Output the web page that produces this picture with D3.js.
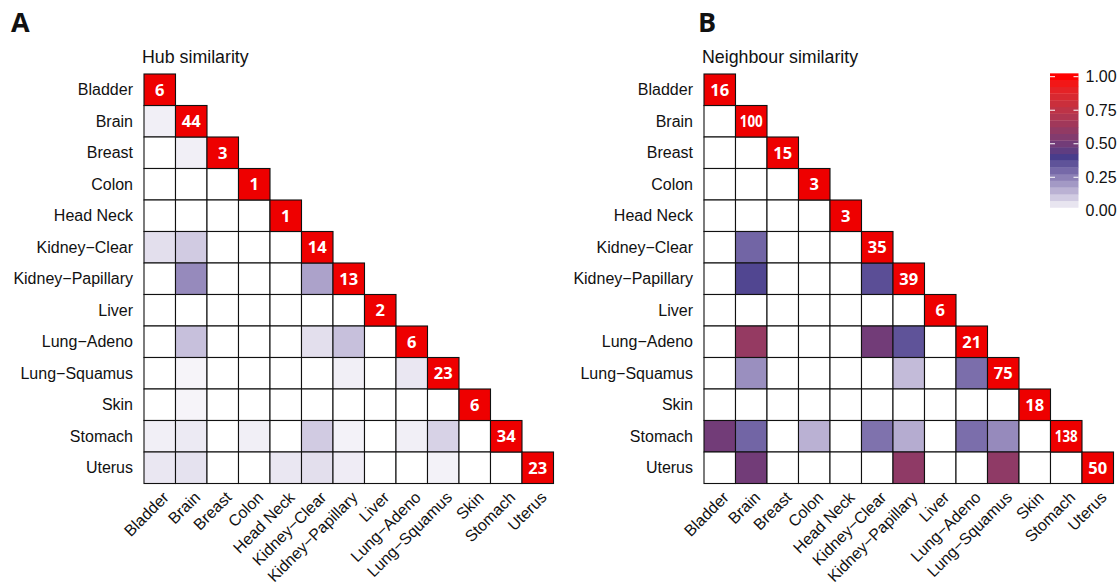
<!DOCTYPE html>
<html>
<head>
<meta charset="utf-8">
<script src="https://cdn.jsdelivr.net/npm/d3@7"></script>
<style>
  body { margin: 0; background: #fff; }
  text { font-family: "Liberation Sans", Arial, sans-serif; fill: #111; }
  .panel-letter { font-family: "Open Sans", sans-serif; font-weight: 700; font-size: 27px; }
  .diag-num { font-family: "Open Sans", sans-serif; font-weight: 700; font-size: 16.5px; fill: #fff; }
</style>
</head>
<body>
<script>
// tissue names (rows and columns are the same)
var tissues = ["Bladder", "Brain", "Breast", "Colon", "Head Neck", "Kidney\u2212Clear",
    "Kidney\u2212Papillary", "Liver", "Lung\u2212Adeno", "Lung\u2212Squamus", "Skin", "Stomach", "Uterus"];

// counts printed on the diagonal
var hubCounts = [6, 44, 3, 1, 1, 14, 13, 2, 6, 23, 6, 34, 23];
var neighbourCounts = [16, 100, 15, 3, 3, 35, 39, 6, 21, 75, 18, 138, 50];

// lower triangle, row i holds columns 0..i-1 (0 = blank cell)
var hubSim = [
    [],
    [0.03],
    [0, 0.03],
    [0, 0, 0],
    [0, 0, 0, 0],
    [0.06, 0.10, 0, 0, 0],
    [0, 0.23, 0, 0, 0, 0.18],
    [0, 0, 0, 0, 0, 0, 0],
    [0, 0.12, 0, 0, 0, 0.06, 0.12, 0],
    [0, 0.02, 0, 0, 0, 0, 0.03, 0, 0.045],
    [0, 0.02, 0, 0, 0, 0, 0, 0, 0, 0],
    [0.03, 0.04, 0, 0.03, 0, 0.10, 0.025, 0, 0.03, 0.085, 0],
    [0.045, 0.055, 0, 0, 0.045, 0.06, 0.035, 0, 0, 0.025, 0, 0]
];

var neighbourSim = [
    [],
    [0],
    [0, 0],
    [0, 0, 0],
    [0, 0, 0, 0],
    [0, 0.31, 0, 0, 0],
    [0, 0.38, 0, 0, 0, 0.36],
    [0, 0, 0, 0, 0, 0, 0],
    [0, 0.61, 0, 0, 0, 0.5, 0.35, 0],
    [0, 0.22, 0, 0, 0, 0, 0.13, 0, 0.29],
    [0, 0, 0, 0, 0, 0, 0, 0, 0, 0],
    [0.5, 0.31, 0, 0.15, 0, 0.28, 0.16, 0, 0.29, 0.23, 0],
    [0, 0.5, 0, 0, 0, 0, 0.59, 0, 0, 0.59, 0, 0]
];

var legendTicks = [0, 0.25, 0.5, 0.75, 1];

var W = 1117, H = 586;
var cell = 31.5;
var gridTop = 74;
var n = tissues.length;

var color = d3.scaleLinear()
    .domain([0, 0.4, 1])
    .range(["#ffffff", "#483d8b", "#ff0000"])
    .interpolate(d3.interpolateLab);

var svg = d3.select("body").append("svg")
    .attr("width", W)
    .attr("height", H);

function drawPanel(x0, letter, letterX, title, counts, sim) {
    var scale = d3.scaleBand().domain(tissues).range([0, n * cell]);
    var g = svg.append("g").attr("transform", "translate(" + x0 + "," + gridTop + ")");

    svg.append("text")
        .attr("class", "panel-letter")
        .attr("x", letterX)
        .attr("y", 32)
        .text(letter);

    g.append("text")
        .attr("x", -2)
        .attr("y", -11)
        .style("font-size", "17.8px")
        .text(title);

    // build cell list
    var cells = [];
    sim.forEach(function(row, i) {
        row.forEach(function(v, j) {
            cells.push({r: tissues[i], c: tissues[j], v: v});
        });
    });

    g.selectAll(".cell")
        .data(cells)
        .enter()
        .append("rect")
            .attr("class", "cell")
            .attr("x", function(d) { return scale(d.c) })
            .attr("y", function(d) { return scale(d.r) })
            .attr("width", scale.bandwidth())
            .attr("height", scale.bandwidth())
            .attr("fill", function(d) { return d.v > 0 ? color(d.v) : "#fff" })
            .attr("stroke", "#111")
            .attr("stroke-width", 1.1);

    // diagonal
    g.selectAll(".diag")
        .data(tissues)
        .enter()
        .append("rect")
            .attr("class", "diag")
            .attr("x", function(d) { return scale(d) })
            .attr("y", function(d) { return scale(d) })
            .attr("width", scale.bandwidth())
            .attr("height", scale.bandwidth())
            .attr("fill", "#ee0000")
            .attr("stroke", "#111")
            .attr("stroke-width", 1.1);

    g.selectAll(".diag-num")
        .data(tissues)
        .enter()
        .append("text")
            .attr("class", "diag-num")
            .attr("x", function(d) { return scale(d) + scale.bandwidth() / 2 })
            .attr("y", function(d) { return scale(d) + scale.bandwidth() / 2 + 6 })
            .attr("text-anchor", "middle")
            .each(function(d, i) {
                var s = String(counts[i]);
                d3.select(this).text(s);
                if (s.length > 2) {
                    d3.select(this)
                        .attr("textLength", 23)
                        .attr("lengthAdjust", "spacingAndGlyphs");
                }
            });

    // row labels
    g.selectAll(".ylab")
        .data(tissues)
        .enter()
        .append("text")
            .attr("x", -11)
            .attr("y", function(d) { return scale(d) + scale.bandwidth() / 2 + 5.5 })
            .attr("text-anchor", "end")
            .style("font-size", "16px")
            .text(function(d) { return d });

    // column labels
    var bottom = n * cell;
    g.selectAll(".xlab")
        .data(tissues)
        .enter()
        .append("text")
            .attr("text-anchor", "end")
            .style("font-size", "16px")
            .attr("transform", function(d) {
                return "translate(" + (scale(d) + scale.bandwidth() / 2 + 6) + "," + (bottom + 11) + ") rotate(-45)";
            })
            .attr("dy", "0.35em")
            .text(function(d) { return d });
}

drawPanel(144, "A", 11, "Hub similarity", hubCounts, hubSim);
drawPanel(704, "B", 698, "Neighbour similarity", neighbourCounts, neighbourSim);

// colour bar legend
var legY = d3.scaleLinear().domain([0, 1]).range([210.8, 76.7]);
var barX = 1050, barW = 28.5;
var binStep = 0.05;
var bins = d3.range(1, 21).map(function(k) { return k * binStep });
var binH = legY(0) - legY(binStep);

var leg = svg.append("g");
leg.selectAll(".bin")
    .data(bins)
    .enter()
    .append("rect")
        .attr("x", barX)
        .attr("y", function(d) { return legY(d) - binH / 2 })
        .attr("width", barW)
        .attr("height", binH + 0.3)
        .attr("fill", function(d) { return color(d) });

legendTicks.filter(function(t) { return t > 0 }).forEach(function(t) {
    leg.append("line")
        .attr("x1", barX).attr("x2", barX + 5)
        .attr("y1", legY(t)).attr("y2", legY(t))
        .attr("stroke", "#fff").attr("stroke-width", 1);
    leg.append("line")
        .attr("x1", barX + barW - 5).attr("x2", barX + barW)
        .attr("y1", legY(t)).attr("y2", legY(t))
        .attr("stroke", "#fff").attr("stroke-width", 1);
});

leg.selectAll(".leglab")
    .data(legendTicks)
    .enter()
    .append("text")
        .attr("x", barX + barW + 7)
        .attr("y", function(d) { return legY(d) + 5.5 })
        .style("font-size", "16px")
        .text(function(d) { return d3.format(".2f")(d) });
</script>
</body>
</html>
